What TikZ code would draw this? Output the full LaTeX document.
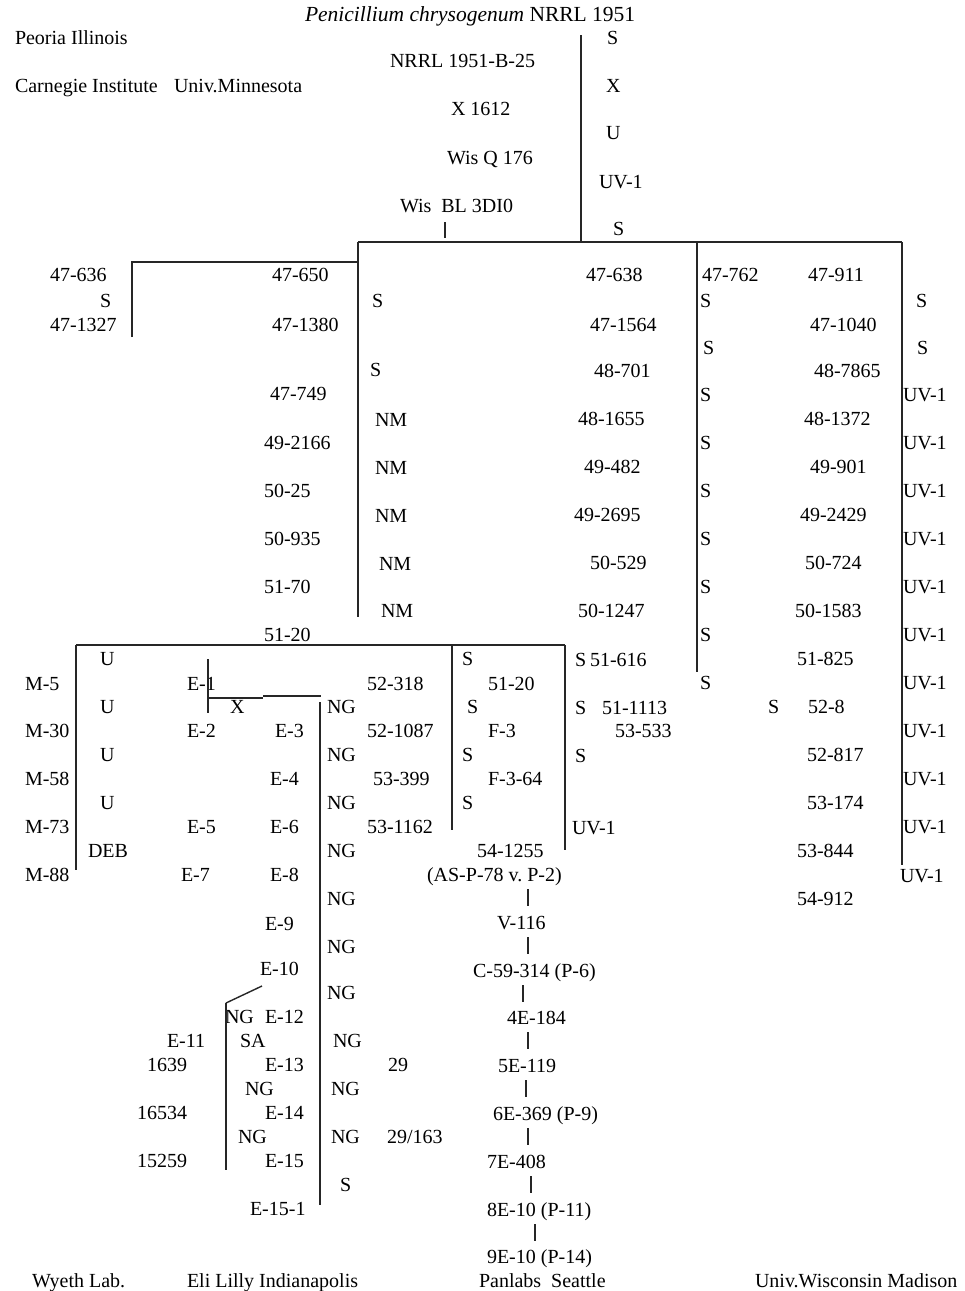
\documentclass[tikz,border=0pt]{standalone}
\usepackage{fontspec}
\setmainfont{Liberation Serif}
\newcounter{lblc}
\newcommand\Lbl[3]{\stepcounter{lblc}\node[lbl] (t\arabic{lblc}) at (#1,#2) {#3};}
\frenchspacing
\begin{document}
\begin{tikzpicture}[x=1pt,y=-1pt,
  lbl/.style={anchor=base west,inner sep=0pt,outer sep=0pt,yshift=-7pt,font=\fontsize{20}{24}\selectfont},
  ln/.style={draw=black!85,line width=1.8pt},
  tk/.style={draw=black!85,line width=1.4pt}]
\path[use as bounding box,fill=white] (0,0) rectangle (965,1291);
% ---------- top ----------
\Lbl{305}{14}{\fontsize{21.5}{24}\selectfont\textit{Penicillium chrysogenum} NRRL 1951}
\Lbl{15}{37}{Peoria Illinois}
\Lbl{15}{85}{Carnegie Institute}
\Lbl{174}{85}{Univ.Minnesota}
\Lbl{390}{60}{NRRL 1951-B-25}
\Lbl{451}{108}{X 1612}
\Lbl{447}{157}{Wis Q 176}
\Lbl{400}{205}{Wis\ \ BL 3DI0}
\Lbl{607}{37}{S}
\Lbl{606}{85}{X}
\Lbl{606}{132}{U}
\Lbl{599}{181}{UV-1}
\Lbl{613}{228}{S}
% ---------- section 1 ----------
\Lbl{50}{274}{47-636}
\Lbl{100}{300}{S}
\Lbl{50}{324}{47-1327}
\Lbl{272}{274}{47-650}
\Lbl{272}{324}{47-1380}
\Lbl{270}{393}{47-749}
\Lbl{264}{442}{49-2166}
\Lbl{264}{490}{50-25}
\Lbl{264}{538}{50-935}
\Lbl{264}{586}{51-70}
\Lbl{264}{634}{51-20}
\Lbl{372}{300}{S}
\Lbl{370}{369}{S}
\Lbl{375}{419}{NM}
\Lbl{375}{467}{NM}
\Lbl{375}{515}{NM}
\Lbl{379}{563}{NM}
\Lbl{381}{610}{NM}
\Lbl{586}{274}{47-638}
\Lbl{590}{324}{47-1564}
\Lbl{594}{370}{48-701}
\Lbl{578}{418}{48-1655}
\Lbl{584}{466}{49-482}
\Lbl{574}{514}{49-2695}
\Lbl{590}{562}{50-529}
\Lbl{578}{610}{50-1247}
\Lbl{702}{274}{47-762}
\Lbl{700}{300}{S}
\Lbl{703}{347}{S}
\Lbl{700}{394}{S}
\Lbl{700}{442}{S}
\Lbl{700}{490}{S}
\Lbl{700}{538}{S}
\Lbl{700}{586}{S}
\Lbl{700}{634}{S}
\Lbl{700}{682}{S}
\Lbl{808}{274}{47-911}
\Lbl{810}{324}{47-1040}
\Lbl{814}{370}{48-7865}
\Lbl{804}{418}{48-1372}
\Lbl{810}{466}{49-901}
\Lbl{800}{514}{49-2429}
\Lbl{805}{562}{50-724}
\Lbl{795}{610}{50-1583}
\Lbl{797}{658}{51-825}
\Lbl{768}{706}{S}
\Lbl{808}{706}{52-8}
\Lbl{807}{754}{52-817}
\Lbl{807}{802}{53-174}
\Lbl{797}{850}{53-844}
\Lbl{797}{898}{54-912}
\Lbl{916}{300}{S}
\Lbl{917}{347}{S}
\foreach \yy in {394,442,490,538,586,634,682,730,778,826}{\Lbl{903}{\yy}{UV-1}}
\Lbl{900}{875}{UV-1}
% ---------- section 2 ----------
\Lbl{100}{658}{U}
\Lbl{25}{683}{M-5}
\Lbl{100}{706}{U}
\Lbl{25}{730}{M-30}
\Lbl{100}{754}{U}
\Lbl{25}{778}{M-58}
\Lbl{100}{802}{U}
\Lbl{25}{826}{M-73}
\Lbl{88}{850}{DEB}
\Lbl{25}{874}{M-88}
\Lbl{187}{683}{E-1}
\Lbl{230}{706}{X}
\Lbl{187}{730}{E-2}
\Lbl{275}{730}{E-3}
\Lbl{270}{778}{E-4}
\Lbl{187}{826}{E-5}
\Lbl{270}{826}{E-6}
\Lbl{181}{874}{E-7}
\Lbl{270}{874}{E-8}
\Lbl{265}{923}{E-9}
\Lbl{260}{968}{E-10}
\Lbl{327}{706}{NG}
\Lbl{327}{754}{NG}
\Lbl{327}{802}{NG}
\Lbl{327}{850}{NG}
\Lbl{327}{898}{NG}
\Lbl{327}{946}{NG}
\Lbl{327}{992}{NG}
\Lbl{333}{1040}{NG}
\Lbl{331}{1088}{NG}
\Lbl{331}{1136}{NG}
\Lbl{340}{1184}{S}
\Lbl{367}{683}{52-318}
\Lbl{367}{730}{52-1087}
\Lbl{373}{778}{53-399}
\Lbl{367}{826}{53-1162}
\Lbl{462}{658}{S}
\Lbl{488}{683}{51-20}
\Lbl{467}{706}{S}
\Lbl{488}{730}{F-3}
\Lbl{462}{754}{S}
\Lbl{488}{778}{F-3-64}
\Lbl{462}{802}{S}
\Lbl{575}{659}{S}
\Lbl{590}{659}{51-616}
\Lbl{575}{707}{S}
\Lbl{602}{707}{51-1113}
\Lbl{615}{730}{53-533}
\Lbl{575}{755}{S}
\Lbl{572}{827}{UV-1}
\Lbl{477}{850}{54-1255}
\Lbl{427}{874}{(AS-P-78 v. P-2)}
\Lbl{497}{922}{V-116}
\Lbl{473}{970}{C-59-314 (P-6)}
\Lbl{507}{1017}{4E-184}
\Lbl{498}{1065}{5E-119}
\Lbl{493}{1113}{6E-369 (P-9)}
\Lbl{487}{1161}{7E-408}
\Lbl{487}{1209}{8E-10 (P-11)}
\Lbl{487}{1256}{9E-10 (P-14)}
\Lbl{225}{1016}{NG}
\Lbl{265}{1016}{E-12}
\Lbl{167}{1040}{E-11}
\Lbl{240}{1040}{SA}
\Lbl{147}{1064}{1639}
\Lbl{265}{1064}{E-13}
\Lbl{388}{1064}{29}
\Lbl{245}{1088}{NG}
\Lbl{137}{1112}{16534}
\Lbl{265}{1112}{E-14}
\Lbl{238}{1136}{NG}
\Lbl{387}{1136}{29/163}
\Lbl{137}{1160}{15259}
\Lbl{265}{1160}{E-15}
\Lbl{250}{1208}{E-15-1}
% ---------- bottom ----------
\Lbl{32}{1280}{Wyeth Lab.}
\Lbl{187}{1280}{Eli Lilly Indianapolis}
\Lbl{479}{1280}{Panlabs\ \ Seattle}
\Lbl{755}{1280}{Univ.Wisconsin Madison}
% ---------- line junctions ----------
\coordinate (m0) at (581,35);
\coordinate (m1) at (581,242);
\coordinate (tk0) at (445,222);
\coordinate (tk1) at (445,238);
\coordinate (hL) at (358,242);
\coordinate (hM) at (697,242);
\coordinate (hR) at (902,242);
\coordinate (nmE) at (358,617);
\coordinate (sE) at (697,672);
\coordinate (uvE) at (902,865);
\coordinate (l0) at (358,262);
\coordinate (l1) at (132,262);
\coordinate (l2) at (132,337);
\coordinate (b0) at (76,645);
\coordinate (b1) at (452,645);
\coordinate (b2) at (565,645);
\coordinate (bE0) at (76,870);
\coordinate (bE1) at (452,830);
\coordinate (bE2) at (565,850);
\coordinate (e0) at (208,659);
\coordinate (e1) at (208,713);
\coordinate (e2) at (208,698);
\coordinate (e3) at (263,698);
\coordinate (e4) at (263,696);
\coordinate (e5) at (321,696);
\coordinate (g0) at (320,702);
\coordinate (g1) at (320,1205);
\coordinate (d0) at (262,986);
\coordinate (d1) at (226,1003);
\coordinate (d2) at (226,1170);
% ---------- lines ----------
\draw[ln] (m0) -- (m1);
\draw[tk] (tk0) -- (tk1);
\draw[ln] (hL) -- (hR);
\draw[ln] (hL) -- (nmE);
\draw[ln] (hM) -- (sE);
\draw[ln] (hR) -- (uvE);
\draw[ln] (l2) -- (l1) -- (l0);
\draw[ln] (b0) -- (b2);
\draw[ln] (b0) -- (bE0);
\draw[ln] (b1) -- (bE1);
\draw[ln] (b2) -- (bE2);
\draw[ln] (e0) -- (e1);
\draw[ln] (e2) -- (e3);
\draw[ln] (e4) -- (e5);
\draw[ln] (g0) -- (g1);
\draw[tk] (d0) -- (d1);
\draw[ln] (d1) -- (d2);
% Panlabs ticks
\foreach \xx/\yy [count=\i] in {528/889,528/937,523/985,528/1032,526/1080,528/1128,531/1176,535/1224}{
  \coordinate (pa\i) at (\xx,\yy);
  \coordinate (pb\i) at (\xx,\yy+17);
  \draw[tk] (pa\i) -- (pb\i);
}
\end{tikzpicture}
\end{document}
